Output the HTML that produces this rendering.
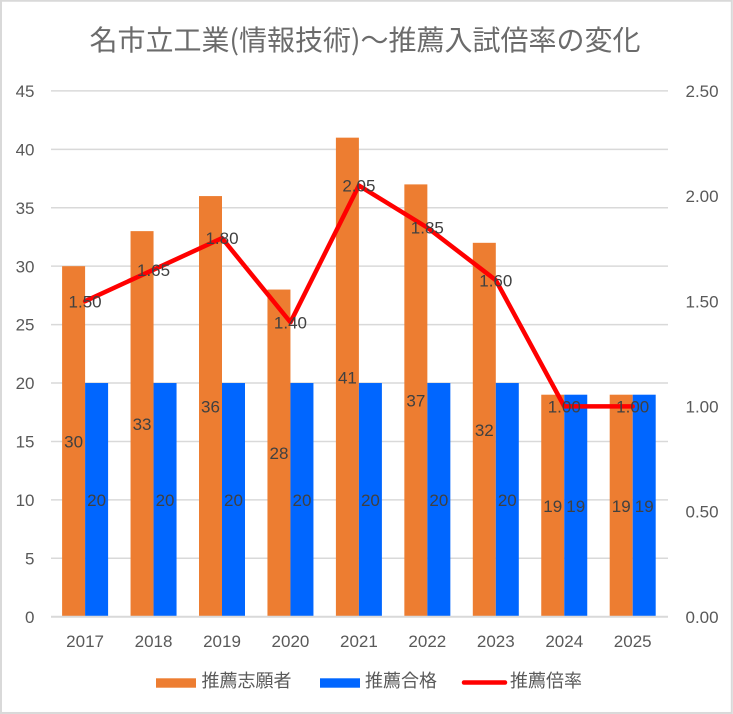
<!DOCTYPE html>
<html><head><meta charset="utf-8"><style>
html,body{margin:0;padding:0;background:#fff;}
svg{display:block;}
</style></head><body>
<svg width="733" height="714" viewBox="0 0 733 714" xmlns="http://www.w3.org/2000/svg">
<rect x="0" y="0" width="733" height="714" fill="#fff"/>
<!-- border -->
<rect x="1" y="0.75" width="730.8" height="712.2" fill="none" stroke="#d9d9d9" stroke-width="2"/>
<!-- title -->
<text x="365" y="50" text-anchor="middle" font-family="'Noto Sans CJK JP', 'Liberation Sans', sans-serif" font-size="28" fill="#6b6b6b">名市立工業(情報技術)～推薦入試倍率の変化</text>
<!-- gridlines -->
<g stroke="#d9d9d9" stroke-width="1.5">
<line x1="51" x2="668" y1="558.28" y2="558.28"/>
<line x1="51" x2="668" y1="499.86" y2="499.86"/>
<line x1="51" x2="668" y1="441.44" y2="441.44"/>
<line x1="51" x2="668" y1="383.02" y2="383.02"/>
<line x1="51" x2="668" y1="324.6" y2="324.6"/>
<line x1="51" x2="668" y1="266.18" y2="266.18"/>
<line x1="51" x2="668" y1="207.76" y2="207.76"/>
<line x1="51" x2="668" y1="149.34" y2="149.34"/>
<line x1="51" x2="668" y1="90.92" y2="90.92"/>
</g>
<!-- bars orange -->
<g fill="#ED7D31">
<rect x="62.1" y="266.18" width="23" height="350.52"/>
<rect x="130.55" y="231.13" width="23" height="385.57"/>
<rect x="199" y="196.08" width="23" height="420.62"/>
<rect x="267.45" y="289.55" width="23" height="327.15"/>
<rect x="335.9" y="137.66" width="23" height="479.04"/>
<rect x="404.35" y="184.39" width="23" height="432.31"/>
<rect x="472.8" y="242.81" width="23" height="373.89"/>
<rect x="541.25" y="394.7" width="23" height="222"/>
<rect x="609.7" y="394.7" width="23" height="222"/>
</g>
<!-- bars blue -->
<g fill="#0066FF">
<rect x="85.1" y="383.02" width="23" height="233.68"/>
<rect x="153.55" y="383.02" width="23" height="233.68"/>
<rect x="222" y="383.02" width="23" height="233.68"/>
<rect x="290.45" y="383.02" width="23" height="233.68"/>
<rect x="358.9" y="383.02" width="23" height="233.68"/>
<rect x="427.35" y="383.02" width="23" height="233.68"/>
<rect x="495.8" y="383.02" width="23" height="233.68"/>
<rect x="564.25" y="394.7" width="23" height="222"/>
<rect x="632.7" y="394.7" width="23" height="222"/>
</g>
<!-- x axis line -->
<line x1="51" x2="668" y1="616.7" y2="616.7" stroke="#d9d9d9" stroke-width="2"/>
<!-- ratio line -->
<polyline points="85.1,301.22 153.55,269.67 222,238.12 290.45,322.25 358.9,185.54 427.35,227.61 495.8,280.19 564.25,406.38 632.7,406.38" fill="none" stroke="#FF0000" stroke-width="4.5" stroke-linejoin="round" stroke-linecap="round"/>
<!-- left axis labels -->
<g font-family="'Liberation Sans', sans-serif" font-size="17" fill="#595959" text-anchor="end">
<text x="34.5" y="622.8">0</text>
<text x="34.5" y="564.4">5</text>
<text x="34.5" y="506">10</text>
<text x="34.5" y="447.5">15</text>
<text x="34.5" y="389.1">20</text>
<text x="34.5" y="330.7">25</text>
<text x="34.5" y="272.3">30</text>
<text x="34.5" y="213.9">35</text>
<text x="34.5" y="155.4">40</text>
<text x="34.5" y="97">45</text>
</g>
<!-- right axis labels -->
<g font-family="'Liberation Sans', sans-serif" font-size="17" fill="#595959" text-anchor="start">
<text x="685.5" y="622.8">0.00</text>
<text x="685.5" y="517.6">0.50</text>
<text x="685.5" y="412.5">1.00</text>
<text x="685.5" y="307.3">1.50</text>
<text x="685.5" y="202.2">2.00</text>
<text x="685.5" y="97">2.50</text>
</g>
<!-- x labels -->
<g font-family="'Liberation Sans', sans-serif" font-size="17" fill="#595959" text-anchor="middle">
<text x="85.1" y="647.2">2017</text>
<text x="153.55" y="647.2">2018</text>
<text x="222" y="647.2">2019</text>
<text x="290.45" y="647.2">2020</text>
<text x="358.9" y="647.2">2021</text>
<text x="427.35" y="647.2">2022</text>
<text x="495.8" y="647.2">2023</text>
<text x="564.25" y="647.2">2024</text>
<text x="632.7" y="647.2">2025</text>
</g>
<!-- bar data labels -->
<g font-family="'Liberation Sans', sans-serif" font-size="17" fill="#404040" text-anchor="middle">
<text x="73.6" y="447.5">30</text>
<text x="142.05" y="430">33</text>
<text x="210.5" y="412.5">36</text>
<text x="278.95" y="459.2">28</text>
<text x="347.4" y="383.3">41</text>
<text x="415.85" y="406.6">37</text>
<text x="484.3" y="435.9">32</text>
<text x="552.75" y="511.8">19</text>
<text x="621.2" y="511.8">19</text>
<text x="96.6" y="506">20</text>
<text x="165.05" y="506">20</text>
<text x="233.5" y="506">20</text>
<text x="301.95" y="506">20</text>
<text x="370.4" y="506">20</text>
<text x="438.85" y="506">20</text>
<text x="507.3" y="506">20</text>
<text x="575.75" y="511.8">19</text>
<text x="644.2" y="511.8">19</text>
</g>
<!-- line data labels -->
<g font-family="'Liberation Sans', sans-serif" font-size="17" fill="#404040" text-anchor="middle">
<text x="85.1" y="307.3">1.50</text>
<text x="153.55" y="275.8">1.65</text>
<text x="222" y="244.2">1.80</text>
<text x="290.45" y="328.4">1.40</text>
<text x="358.9" y="191.6">2.05</text>
<text x="427.35" y="233.7">1.85</text>
<text x="495.8" y="286.3">1.60</text>
<text x="564.25" y="412.5">1.00</text>
<text x="632.7" y="412.5">1.00</text>
</g>
<!-- legend -->
<rect x="156" y="678.3" width="40" height="9.4" fill="#ED7D31"/>
<text x="201.5" y="687" font-family="'Noto Sans CJK JP', 'Liberation Sans', sans-serif" font-size="18" fill="#595959">推薦志願者</text>
<rect x="320" y="678.3" width="40" height="9.4" fill="#0066FF"/>
<text x="365" y="687" font-family="'Noto Sans CJK JP', 'Liberation Sans', sans-serif" font-size="18" fill="#595959">推薦合格</text>
<line x1="464" x2="505" y1="682.5" y2="682.5" stroke="#FF0000" stroke-width="4.5" stroke-linecap="round"/>
<text x="510" y="687" font-family="'Noto Sans CJK JP', 'Liberation Sans', sans-serif" font-size="18" fill="#595959">推薦倍率</text>
</svg>
</body></html>
